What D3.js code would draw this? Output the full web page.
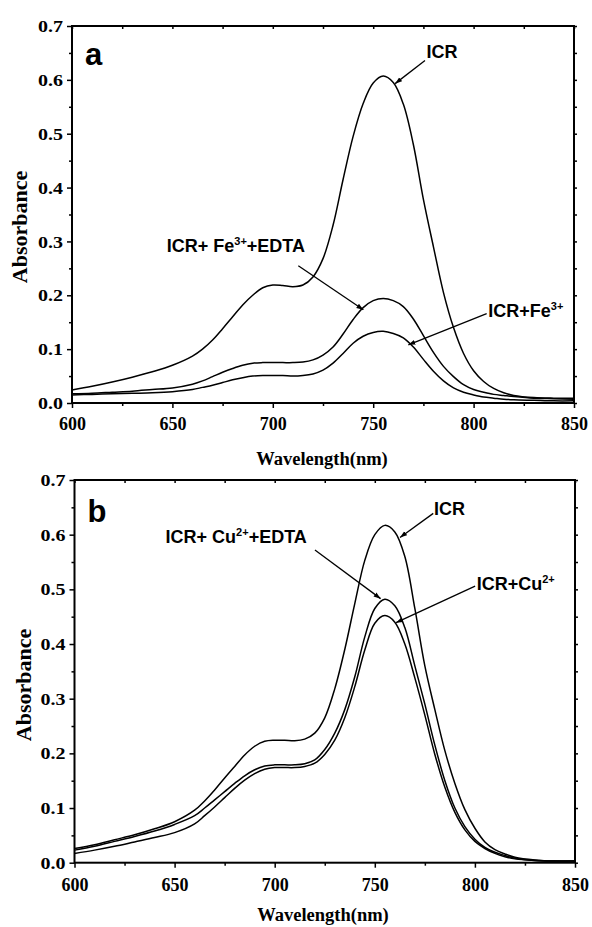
<!DOCTYPE html>
<html>
<head>
<meta charset="utf-8">
<script src="https://cdn.jsdelivr.net/npm/d3@7"></script>
<style>
  html, body { margin: 0; padding: 0; background: #fff; }
  svg { display: block; }
</style>
</head>
<body>
<svg id="chart" width="592" height="927"></svg>
<script>
// ---------------- data ----------------
const wavelengths = [600,610,620,630,640,650,660,665,670,675,680,685,690,695,700,705,710,715,720,725,730,735,740,745,750,755,760,765,770,775,780,785,790,795,800,805,810,815,820,830,840,850];

// panel a
const icrA     = [.024,.031,.039,.048,.058,.070,.087,.100,.117,.138,.160,.182,.200,.214,.219,.218,.216,.219,.234,.268,.330,.415,.495,.556,.594,.607,.595,.555,.480,.378,.290,.205,.140,.092,.060,.040,.027,.019,.014,.010,.009,.009];
const fe3EdtaA = [.017,.018,.020,.022,.025,.028,.035,.041,.049,.057,.064,.070,.074,.075,.075,.075,.075,.076,.080,.089,.104,.128,.155,.177,.190,.194,.190,.179,.156,.125,.094,.068,.049,.034,.025,.020,.016,.014,.012,.009,.008,.007];
const fe3A     = [.015,.016,.017,.018,.019,.021,.025,.029,.033,.038,.043,.047,.050,.051,.051,.051,.050,.051,.054,.061,.074,.092,.111,.124,.131,.133,.129,.121,.104,.081,.059,.041,.028,.020,.015,.011,.009,.007,.006,.005,.004,.004];

// panel b
const icrB     = [.026,.033,.042,.051,.062,.075,.096,.113,.133,.155,.176,.197,.213,.222,.224,.224,.223,.226,.237,.265,.318,.390,.474,.553,.600,.617,.605,.560,.465,.360,.280,.205,.145,.097,.063,.038,.024,.016,.010,.005,.003,.003];
const cuEdtaB  = [.023,.030,.039,.048,.058,.070,.086,.100,.115,.130,.145,.159,.170,.177,.179,.179,.179,.181,.188,.207,.237,.280,.340,.413,.465,.482,.470,.430,.360,.290,.215,.150,.100,.066,.043,.028,.019,.013,.008,.004,.003,.003];
const cuB      = [.017,.023,.030,.038,.046,.055,.071,.086,.102,.119,.136,.151,.163,.171,.174,.174,.174,.176,.182,.198,.224,.265,.322,.389,.438,.452,.440,.400,.338,.270,.198,.138,.092,.060,.039,.026,.017,.011,.007,.004,.003,.003];

const xTicks = [600,650,700,750,800,850];
const xMinorTicks = [625,675,725,775,825];
const yTicks = [0,0.1,0.2,0.3,0.4,0.5,0.6,0.7];
const yMinorTicks = [0.05,0.15,0.25,0.35,0.45,0.55,0.65];

const xTitle = "Wavelength(nm)";
const yTitle = "Absorbance";

// annotations (data units): label position, arrow start, arrow tip
const annotA = [
  {x:776.6, y:0.640, pre:"ICR", sup:"", post:"", sx:775.8, sy:0.636, tx:760.9, ty:0.593},
  {x:647.2, y:0.281, pre:"ICR+ Fe", sup:"3+", post:"+EDTA", sx:712.7, sy:0.255, tx:745.1, ty:0.173},
  {x:807.3, y:0.160, pre:"ICR+Fe", sup:"3+", post:"", sx:806.5, sy:0.166, tx:767.5, ty:0.108}
];
const annotB = [
  {x:779.6, y:0.636, pre:"ICR", sup:"", post:"", sx:779.2, sy:0.639, tx:762.6, ty:0.595},
  {x:645.5, y:0.584, pre:"ICR+ Cu", sup:"2+", post:"+EDTA", sx:720.1, sy:0.572, tx:752.9, ty:0.483},
  {x:800.9, y:0.499, pre:"ICR+Cu", sup:"2+", post:"", sx:800.1, sy:0.506, tx:760.6, ty:0.439}
];

// ---------------- drawing ----------------
const SERIF = "'Liberation Serif', 'Times New Roman', serif";
const SANS = "'Liberation Sans', Arial, sans-serif";
const svg = d3.select("#chart");
svg.append("rect").attr("width",592).attr("height",927).attr("fill","#fff");

const defs = svg.append("defs");
defs.append("marker").attr("id","arrow")
  .attr("viewBox","0 0 10 10").attr("refX",10).attr("refY",5)
  .attr("markerWidth",7).attr("markerHeight",7).attr("markerUnits","userSpaceOnUse")
  .attr("orient","auto")
  .append("path").attr("d","M0,1.5 L10,5 L0,8.5 Z").attr("fill","#000");

function drawPanel(cfg) {
  const x = d3.scaleLinear().domain([600,850]).range([cfg.left, cfg.right]);
  const y = d3.scaleLinear().domain([0,0.7]).range([cfg.bottom, cfg.top]);
  const g = svg.append("g");

  // minor / mirrored ticks
  g.append("g").attr("transform",`translate(0,${cfg.bottom})`)
    .call(d3.axisBottom(x).tickValues(xMinorTicks).tickSize(3).tickFormat(""));
  g.append("g").attr("transform",`translate(${cfg.left},0)`)
    .call(d3.axisLeft(y).tickValues(yMinorTicks).tickSize(3).tickFormat(""));
  g.append("g").attr("transform",`translate(0,${cfg.top})`)
    .call(d3.axisBottom(x).tickValues(xTicks.concat(xMinorTicks)).tickSize(3).tickFormat(""));
  g.append("g").attr("transform",`translate(${cfg.right},0)`)
    .call(d3.axisRight(y).tickValues(yTicks.concat(yMinorTicks)).tickSize(3).tickFormat(""));

  // major axes
  const xa = g.append("g").attr("transform",`translate(0,${cfg.bottom})`)
    .attr("font-family",SERIF)
    .call(d3.axisBottom(x).tickValues(xTicks).tickSize(5).tickPadding(cfg.xPad).tickFormat(d3.format("d")));
  xa.attr("font-family",SERIF).attr("font-weight","bold");
  xa.selectAll("text").attr("font-size",19.5).attr("font-family",SERIF).attr("font-weight","bold").attr("fill","#000")
    .attr("textLength",27).attr("lengthAdjust","spacingAndGlyphs");
  const ya = g.append("g").attr("transform",`translate(${cfg.left},0)`)
    .call(d3.axisLeft(y).tickValues(yTicks).tickSize(5).tickPadding(4).tickFormat(d3.format(".1f")));
  ya.attr("font-family",SERIF).attr("font-weight","bold");
  ya.selectAll("text").attr("font-size",17.5).attr("font-family",SERIF).attr("font-weight","bold").attr("fill","#000")
    .attr("textLength",25).attr("lengthAdjust","spacingAndGlyphs");
  g.selectAll(".domain").remove();
  g.selectAll(".tick line").attr("stroke","#000").attr("stroke-width",1.5);

  // frame
  g.append("rect").attr("x",cfg.left).attr("y",cfg.top)
    .attr("width",cfg.right-cfg.left).attr("height",cfg.bottom-cfg.top)
    .attr("fill","none").attr("stroke","#000").attr("stroke-width",2);

  // curves
  const line = d3.line().x((d,i)=>x(wavelengths[i])).y(d=>y(d)).curve(d3.curveCatmullRom.alpha(0.5));
  cfg.series.forEach(s=>{
    g.append("path").datum(s).attr("d",line)
      .attr("fill","none").attr("stroke","#000").attr("stroke-width",1.5);
  });

  // panel letter
  g.append("text").attr("x",cfg.left+13).attr("y",cfg.letterY)
    .attr("font-family",SANS).attr("font-weight","bold")
    .attr("font-size",31).text(cfg.letter);

  // annotations
  cfg.annot.forEach(a=>{
    g.append("line").attr("x1",x(a.sx)).attr("y1",y(a.sy)).attr("x2",x(a.tx)).attr("y2",y(a.ty))
      .attr("stroke","#000").attr("stroke-width",1.3).attr("marker-end","url(#arrow)");
    const t = g.append("text").attr("x",x(a.x)).attr("y",y(a.y))
      .attr("font-family",SANS).attr("font-weight","bold")
      .attr("font-size",18);
    t.append("tspan").text(a.pre);
    if (a.sup) {
      t.append("tspan").attr("dy",-7).attr("font-size",11).text(a.sup);
      t.append("tspan").attr("dy",7).text(a.post);
    }
  });

  // axis titles
  g.append("text").attr("x",cfg.xTitleX).attr("y",cfg.xTitleY)
    .attr("text-anchor","middle")
    .attr("font-family",SERIF).attr("font-weight","bold")
    .attr("font-size",18.5).text(xTitle);
  g.append("text").attr("transform",`translate(${cfg.yTitleX},${cfg.yTitleCY}) rotate(-90)`)
    .attr("text-anchor","middle")
    .attr("font-family",SERIF).attr("font-weight","bold")
    .attr("font-size",22).text(yTitle);
}

drawPanel({left:72, right:574, top:26, bottom:403, xPad:8, letter:"a", letterY:65,
  series:[icrA, fe3EdtaA, fe3A], annot:annotA, xTitleX:322, xTitleY:465, yTitleX:27, yTitleCY:227});
drawPanel({left:74.5, right:575, top:480, bottom:862.7, xPad:9, letter:"b", letterY:521.5,
  series:[icrB, cuEdtaB, cuB], annot:annotB, xTitleX:323, xTitleY:921, yTitleX:31, yTitleCY:685});
</script>
</body>
</html>
